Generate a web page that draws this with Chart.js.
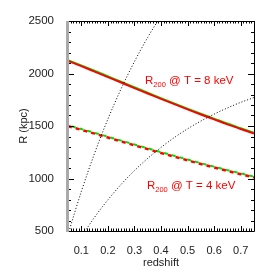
<!DOCTYPE html>
<html>
<head>
<meta charset="utf-8">
<script src="https://cdn.jsdelivr.net/npm/chart.js@4/dist/chart.umd.min.js"></script>
<style>
  body { margin: 0; background: #fff; }
  #wrap { width: 274px; height: 274px; }
</style>
</head>
<body>
<div id="wrap"><canvas id="r200_chart" width="274" height="274"></canvas></div>
<script>
// redshift grid for the R200 curves
var zGrid = [0.05, 0.10, 0.15, 0.20, 0.25, 0.30, 0.35, 0.40, 0.45, 0.50, 0.55, 0.60, 0.65, 0.70, 0.75];
var r200_8keV_red   = [2120, 2070, 2018, 1966, 1914, 1861, 1810, 1758, 1708, 1658, 1610, 1563, 1516, 1472, 1428];
var r200_8keV_green = [2130, 2080, 2028, 1976, 1924, 1871, 1820, 1768, 1718, 1668, 1620, 1573, 1526, 1482, 1438];
var r200_4keV_red   = [1499, 1463, 1427, 1390, 1353, 1316, 1280, 1243, 1208, 1173, 1138, 1105, 1072, 1041, 1010];
var r200_4keV_green = [1507, 1471, 1435, 1398, 1361, 1324, 1288, 1251, 1216, 1181, 1146, 1113, 1080, 1049, 1018];

// dotted curves (fixed angular radius)
var zDot1 = [0.05, 0.075, 0.10, 0.125, 0.15, 0.175, 0.20, 0.225, 0.25, 0.275, 0.30, 0.325, 0.35, 0.375, 0.40];
var rDot1 = [464, 675, 875, 1063, 1240, 1408, 1565, 1714, 1855, 1988, 2113, 2232, 2344, 2449, 2548];
var zDot2 = [0.10, 0.15, 0.20, 0.25, 0.30, 0.35, 0.40, 0.45, 0.50, 0.55, 0.60, 0.65, 0.70, 0.75];
var rDot2 = [445, 631, 796, 944, 1075, 1192, 1296, 1390, 1473, 1547, 1613, 1672, 1725, 1771];

var xTicks = [0.1, 0.2, 0.3, 0.4, 0.5, 0.6, 0.7];
var yTicks = [500, 1000, 1500, 2000, 2500];

var fontFam = "'Liberation Sans', Arial, Helvetica, sans-serif";

function pts(xs, ys) {
  return xs.map(function (x, i) { return {x: x, y: ys[i]}; });
}

// frame with inward ticks on all four sides, plus the two labels
var framePlugin = {
  id: 'frame',
  afterDraw: function (chart) {
    var ctx = chart.ctx;
    var a = chart.chartArea;
    var xs = chart.scales.x, ys = chart.scales.y;
    ctx.save();
    ctx.strokeStyle = '#000';
    ctx.lineWidth = 1;
    ctx.beginPath();
    // x ticks every 0.01, major at 0.1
    for (var i = 5; i <= 75; i++) {
      var px = Math.round(xs.getPixelForValue(i / 100)) + 0.5;
      var len = (i % 10 === 0) ? 5 : 2.5;
      ctx.moveTo(px, a.bottom); ctx.lineTo(px, a.bottom - len);
      ctx.moveTo(px, a.top); ctx.lineTo(px, a.top + len);
    }
    // y ticks every 100, major at 500
    for (var v = 500; v <= 2500; v += 100) {
      var py = Math.round(ys.getPixelForValue(v)) + 0.5;
      var l2 = (v % 500 === 0) ? 6 : 3;
      ctx.moveTo(a.left, py); ctx.lineTo(a.left + l2, py);
      ctx.moveTo(a.right, py); ctx.lineTo(a.right - l2, py);
    }
    ctx.stroke();
    ctx.beginPath();
    ctx.moveTo(a.left, a.top + 0.5); ctx.lineTo(a.right + 0.5, a.top + 0.5);
    ctx.lineTo(a.right + 0.5, a.bottom + 0.5); ctx.lineTo(a.left, a.bottom + 0.5);
    ctx.stroke();
    ctx.strokeStyle = '#aaa';
    ctx.lineWidth = 3;
    ctx.beginPath();
    ctx.moveTo(a.left - 0.5, a.top); ctx.lineTo(a.left - 0.5, a.bottom + 1);
    ctx.stroke();

    // R200 labels
    ctx.fillStyle = '#ff0000';
    ctx.textBaseline = 'alphabetic';
    var labels = [[0.34, 1900, '8'], [0.347, 900, '4']];
    labels.forEach(function (lb) {
      var x0 = xs.getPixelForValue(lb[0]);
      var y0 = ys.getPixelForValue(lb[1]);
      ctx.font = '11.5px ' + fontFam;
      ctx.fillText('R', x0, y0);
      var w = ctx.measureText('R').width;
      ctx.font = '7.5px ' + fontFam;
      ctx.fillText('200', x0 + w, y0 + 3);
      w += ctx.measureText('200').width;
      ctx.font = '11.5px ' + fontFam;
      ctx.fillText(' @ T = ' + lb[2] + ' keV', x0 + w, y0);
    });
    ctx.restore();
  }
};

var myChart = document.getElementById('r200_chart');

var lineChart = new Chart(myChart, {
  type: 'line',
  data: {
    datasets: [
      {data: pts(zDot1, rDot1), borderColor: '#000', borderWidth: 1, borderDash: [1, 2]},
      {data: pts(zDot2, rDot2), borderColor: '#000', borderWidth: 1, borderDash: [1, 2]},
      {data: pts(zGrid, r200_8keV_red), borderColor: '#ff0000', borderWidth: 2},
      {data: pts(zGrid, r200_8keV_green), borderColor: '#00dd00', borderWidth: 1.5},
      {data: pts(zGrid, r200_4keV_red), borderColor: '#ff0000', borderWidth: 2.5, borderDash: [4, 4]},
      {data: pts(zGrid, r200_4keV_green), borderColor: '#00dd00', borderWidth: 2, borderDash: [4, 4], borderDashOffset: 4}
    ]
  },
  options: {
    responsive: false,
    animation: false,
    devicePixelRatio: 1,
    elements: {
      point: {radius: 0},
      line: {fill: false, cubicInterpolationMode: 'monotone'}
    },
    layout: {padding: {top: 21, right: 20, left: 0, bottom: 0}},
    plugins: {legend: {display: false}, tooltip: {enabled: false}},
    scales: {
      x: {
        type: 'linear',
        min: 0.05,
        max: 0.75,
        grid: {display: false},
        border: {display: false},
        afterBuildTicks: function (scale) {
          scale.ticks = xTicks.map(function (v) { return {value: v}; });
        },
        afterFit: function (scale) { scale.height = 43; },
        ticks: {
          padding: 5,
          color: '#222',
          font: {family: fontFam, size: 11},
          maxRotation: 0,
          callback: function (v) { return v.toFixed(1); }
        },
        title: {display: true, text: 'redshift', color: '#222', font: {family: fontFam, size: 11}, padding: {top: 0, bottom: 4}}
      },
      y: {
        type: 'linear',
        min: 500,
        max: 2500,
        grid: {display: false},
        border: {display: false},
        afterBuildTicks: function (scale) {
          scale.ticks = yTicks.map(function (v) { return {value: v}; });
        },
        afterFit: function (scale) { scale.width = 68; },
        ticks: {
          padding: 6,
          color: '#222',
          font: {family: fontFam, size: 11.5},
          callback: function (v) { return String(v); }
        },
        title: {display: true, text: 'R (kpc)', color: '#222', font: {family: fontFam, size: 11}, padding: {top: 17, bottom: 0}}
      }
    }
  },
  plugins: [framePlugin]
});
</script>
</body>
</html>
